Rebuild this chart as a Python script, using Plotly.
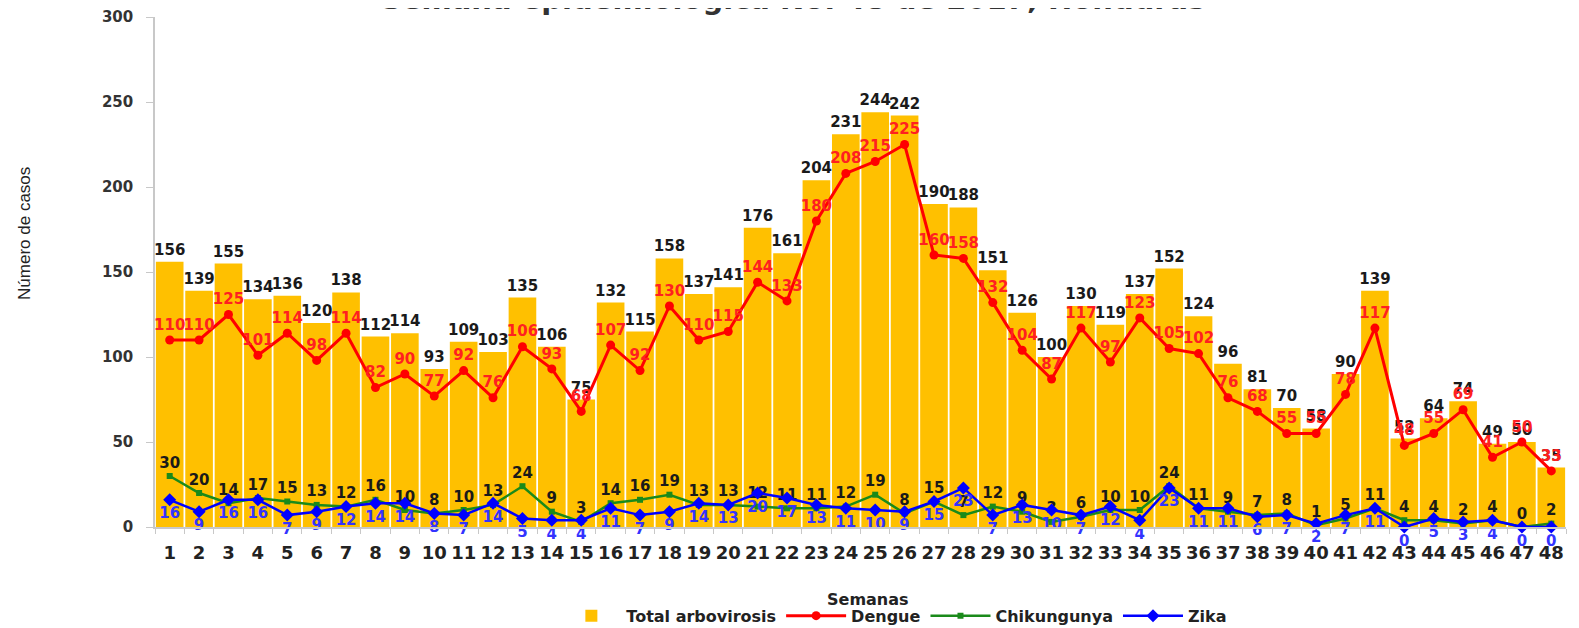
import plotly.graph_objects as go

semanas = [str(i) for i in range(1, 49)]
total = [156, 139, 155, 134, 136, 120, 138, 112, 114, 93, 109, 103, 135, 106, 75, 132, 115, 158, 137, 141,
         176, 161, 204, 231, 244, 242, 190, 188, 151, 126, 100, 130, 119, 137, 152, 124, 96, 81, 70, 58,
         90, 139, 52, 64, 74, 49, 50, 35]
dengue = [110, 110, 125, 101, 114, 98, 114, 82, 90, 77, 92, 76, 106, 93, 68, 107, 92, 130, 110, 115,
          144, 133, 180, 208, 215, 225, 160, 158, 132, 104, 87, 117, 97, 123, 105, 102, 76, 68, 55, 55,
          78, 117, 48, 55, 69, 41, 50, 33]
chik = [30, 20, 14, 17, 15, 13, 12, 16, 10, 8, 10, 13, 24, 9, 3, 14, 16, 19, 13, 13,
        12, 11, 11, 12, 19, 8, 15, 7, 12, 9, 3, 6, 10, 10, 24, 11, 9, 7, 8, 1,
        5, 11, 4, 4, 2, 4, 0, 2]
zika = [16, 9, 16, 16, 7, 9, 12, 14, 14, 8, 7, 14, 5, 4, 4, 11, 7, 9, 14, 13,
        20, 17, 13, 11, 10, 9, 15, 23, 7, 13, 10, 7, 12, 4, 23, 11, 11, 6, 7, 2,
        7, 11, 0, 5, 3, 4, 0, 0]

FONT = "DejaVu Sans"
LBL = 15

fig = go.Figure()
fig.add_trace(go.Bar(
    x=semanas, y=total, name="Total arbovirosis",
    marker=dict(color="#FFC000", line=dict(width=0)),
    text=total, textposition="outside", constraintext="none", cliponaxis=False,
    textfont=dict(family=FONT, size=LBL, color="#1a1a1a", weight="bold"),
))
fig.add_trace(go.Scatter(
    x=semanas, y=dengue, name="Dengue", mode="lines+markers+text",
    line=dict(color="#FF0000", width=3), marker=dict(symbol="circle", size=9, color="#FF0000"),
    text=dengue, textposition="top center", cliponaxis=False,
    textfont=dict(family=FONT, size=LBL, color="#FF2020", weight="bold"),
))
fig.add_trace(go.Scatter(
    x=semanas, y=chik, name="Chikungunya", mode="lines+markers+text",
    line=dict(color="#1A8A1A", width=2.5), marker=dict(symbol="square", size=6, color="#1A8A1A"),
    text=chik, textposition="top center", cliponaxis=False,
    textfont=dict(family=FONT, size=LBL, color="#1a1a1a", weight="bold"),
))
fig.add_trace(go.Scatter(
    x=semanas, y=zika, name="Zika", mode="lines+markers+text",
    line=dict(color="#0000FF", width=2.5), marker=dict(symbol="diamond", size=10, color="#0000FF"),
    text=zika, textposition="bottom center", cliponaxis=False,
    textfont=dict(family=FONT, size=LBL, color="#3333FF", weight="bold"),
))

# page body has an 8px default margin; figure size and margins compensate for it
fig.update_layout(
    width=1571, height=620,
    paper_bgcolor="white", plot_bgcolor="white",
    margin=dict(l=147, r=13, t=9, b=101, autoexpand=False),
    bargap=0.06,
    showlegend=True,
    legend=dict(orientation="h", x=0.524, xanchor="center", y=-0.174, yanchor="middle",
                font=dict(family=FONT, size=16, color="#222222", weight="bold"),
                bgcolor="rgba(0,0,0,0)", tracegroupgap=0, itemwidth=60),
    xaxis=dict(type="category", range=[-0.5, 47.5], autorange=False,
               showline=True, linecolor="#c8c8c8", linewidth=1.5,
               ticks="outside", ticklen=5, tickcolor="#c8c8c8", tickson="boundaries",
               showgrid=False, zeroline=False, tickangle=0, automargin=False,
               ticklabelstandoff=9,
               tickfont=dict(family=FONT, size=18, color="#222222", weight="bold")),
    yaxis=dict(range=[0, 300], dtick=50, showline=True, linecolor="#c8c8c8", linewidth=1.5,
               ticks="outside", ticklen=7, tickcolor="#c8c8c8", showgrid=False, zeroline=False,
               automargin=False, ticklabelstandoff=10,
               tickfont=dict(family=FONT, size=15, color="#333333", weight="bold")),
    annotations=[
        dict(text="Semana epidemiológica No. 48 de 2017, Honduras", xref="paper", yref="paper",
             x=0.452, y=1.035, showarrow=False, xanchor="center", yanchor="middle",
             font=dict(family=FONT, size=29, color="#333333", weight="bold")),
        dict(text="Semanas", xref="paper", yref="paper", x=0.505, y=-0.143, showarrow=False,
             xanchor="center", yanchor="middle",
             font=dict(family=FONT, size=16, color="#222222", weight="bold")),
        dict(text="Número de casos", xref="paper", yref="paper", x=-0.092, y=0.575,
             showarrow=False, textangle=-90, xanchor="center", yanchor="middle",
             font=dict(family="Liberation Sans", size=17, color="#222222")),
    ],
)

fig.write_html("out.html")
